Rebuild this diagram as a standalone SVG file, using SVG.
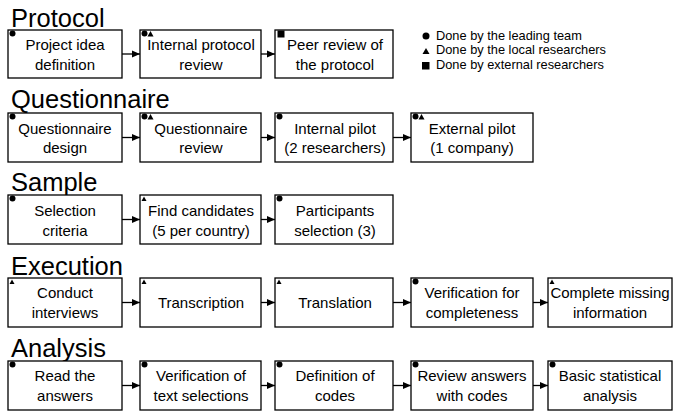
<svg xmlns="http://www.w3.org/2000/svg" width="675" height="413" viewBox="0 0 675 413">
<defs>
<marker id="ah" markerWidth="8" markerHeight="8" refX="8" refY="4" orient="auto" markerUnits="userSpaceOnUse"><path d="M0,0.5 L8,4 L0,7.5 z" fill="#000"/></marker>
<style>
.title{font-family:"Liberation Sans",Arial,sans-serif;font-size:25.5px;fill:#000}
.lbl{font-family:"Liberation Sans",Arial,sans-serif;font-size:15px;fill:#000;text-anchor:middle}
.leg{font-family:"Liberation Sans",Arial,sans-serif;font-size:12.8px;fill:#000}
.box{fill:#fff;stroke:#000;stroke-width:1.3}
.conn{stroke:#000;stroke-width:1.3;fill:none;marker-end:url(#ah)}
.mk{fill:#000}
</style>
</defs>
<rect width="675" height="413" fill="#fff"/>

<g id="titles">
<text class="title" x="11" y="27">Protocol</text>
<text class="title" x="11" y="108">Questionnaire</text>
<text class="title" x="11" y="191">Sample</text>
<text class="title" x="11" y="275">Execution</text>
<text class="title" x="11" y="357">Analysis</text>
</g>

<g id="legend">
<circle class="mk" cx="426" cy="36" r="3.5"/>
<text class="leg" x="436" y="39.5">Done by the leading team</text>
<path class="mk" d="M422.5,54 L426,48 L429.5,54 z"/>
<text class="leg" x="436" y="54">Done by the local researchers</text>
<rect class="mk" x="422" y="62" width="7.5" height="7.5"/>
<text class="leg" x="436" y="68.5">Done by external researchers</text>
</g>

<g id="connectors">
<line class="conn" x1="122" y1="54" x2="140" y2="54"/>
<line class="conn" x1="261" y1="54" x2="275" y2="54"/>
<line class="conn" x1="122" y1="137.5" x2="140" y2="137.5"/>
<line class="conn" x1="261" y1="137.5" x2="275" y2="137.5"/>
<line class="conn" x1="393" y1="137.5" x2="411" y2="137.5"/>
<line class="conn" x1="122" y1="219.5" x2="140" y2="219.5"/>
<line class="conn" x1="261" y1="219.5" x2="275" y2="219.5"/>
<line class="conn" x1="122" y1="302.5" x2="140" y2="302.5"/>
<line class="conn" x1="261" y1="302.5" x2="275" y2="302.5"/>
<line class="conn" x1="393" y1="302.5" x2="411" y2="302.5"/>
<line class="conn" x1="533" y1="302.5" x2="548" y2="302.5"/>
<line class="conn" x1="122" y1="385.5" x2="140" y2="385.5"/>
<line class="conn" x1="261" y1="385.5" x2="275" y2="385.5"/>
<line class="conn" x1="393" y1="385.5" x2="411" y2="385.5"/>
<line class="conn" x1="533" y1="385.5" x2="548" y2="385.5"/>
</g>

<!-- Protocol -->
<g id="p1"><rect class="box" x="8" y="30" width="114" height="48"/><circle class="mk" cx="12.5" cy="33.5" r="3"/>
<text class="lbl" x="65" y="50">Project idea</text><text class="lbl" x="65" y="70">definition</text></g>
<g id="p2"><rect class="box" x="140" y="30" width="121" height="48"/><circle class="mk" cx="144.5" cy="33.5" r="3"/><path class="mk" d="M147.5,36.5 L150.5,31 L153.5,36.5 z"/>
<text class="lbl" x="201" y="50">Internal protocol</text><text class="lbl" x="201" y="70">review</text></g>
<g id="p3"><rect class="box" x="275" y="30" width="118" height="48"/><rect class="mk" x="277.5" y="30.5" width="7" height="7"/>
<text class="lbl" x="335" y="50">Peer review of</text><text class="lbl" x="335" y="70">the protocol</text></g>

<!-- Questionnaire -->
<g id="q1"><rect class="box" x="8" y="113" width="114" height="49"/><circle class="mk" cx="12.5" cy="116.5" r="3"/>
<text class="lbl" x="65" y="134">Questionnaire</text><text class="lbl" x="65" y="153">design</text></g>
<g id="q2"><rect class="box" x="140" y="113" width="121" height="49"/><circle class="mk" cx="144.5" cy="116.5" r="3"/><path class="mk" d="M147.5,119.5 L150.5,114 L153.5,119.5 z"/>
<text class="lbl" x="201" y="134">Questionnaire</text><text class="lbl" x="201" y="153">review</text></g>
<g id="q3"><rect class="box" x="275" y="113" width="118" height="49"/><circle class="mk" cx="279.5" cy="116.5" r="3"/>
<text class="lbl" x="335" y="134">Internal pilot</text><text class="lbl" x="335" y="153">(2 researchers)</text></g>
<g id="q4"><rect class="box" x="411" y="113" width="122" height="49"/><circle class="mk" cx="415.5" cy="116.5" r="3"/><path class="mk" d="M418.5,119.5 L421.5,114 L424.5,119.5 z"/>
<text class="lbl" x="472" y="134">External pilot</text><text class="lbl" x="472" y="153">(1 company)</text></g>

<!-- Sample -->
<g id="s1"><rect class="box" x="8" y="195" width="114" height="49"/><circle class="mk" cx="12.5" cy="198.5" r="3"/>
<text class="lbl" x="65" y="216">Selection</text><text class="lbl" x="65" y="236">criteria</text></g>
<g id="s2"><rect class="box" x="140" y="195" width="121" height="49"/><path class="mk" d="M141.5,201 L144,196.5 L146.5,201 z"/>
<text class="lbl" x="201" y="216">Find candidates</text><text class="lbl" x="201" y="236">(5 per country)</text></g>
<g id="s3"><rect class="box" x="275" y="195" width="118" height="49"/><circle class="mk" cx="279.5" cy="198.5" r="3"/>
<text class="lbl" x="335" y="216">Participants</text><text class="lbl" x="335" y="236">selection (3)</text></g>

<!-- Execution -->
<g id="e1"><rect class="box" x="8" y="278" width="114" height="49"/><path class="mk" d="M9.5,284 L12,279.5 L14.5,284 z"/>
<text class="lbl" x="65" y="298">Conduct</text><text class="lbl" x="65" y="318">interviews</text></g>
<g id="e2"><rect class="box" x="140" y="278" width="121" height="49"/><path class="mk" d="M141.5,284 L144,279.5 L146.5,284 z"/>
<text class="lbl" x="201" y="308">Transcription</text></g>
<g id="e3"><rect class="box" x="275" y="278" width="118" height="49"/><path class="mk" d="M276.5,284 L279,279.5 L281.5,284 z"/>
<text class="lbl" x="335" y="308">Translation</text></g>
<g id="e4"><rect class="box" x="411" y="278" width="122" height="49"/><circle class="mk" cx="415.5" cy="281.5" r="3"/>
<text class="lbl" x="472" y="298">Verification for</text><text class="lbl" x="472" y="318">completeness</text></g>
<g id="e5"><rect class="box" x="548" y="278" width="124" height="49"/><path class="mk" d="M549.5,284 L552,279.5 L554.5,284 z"/>
<text class="lbl" x="610" y="298">Complete missing</text><text class="lbl" x="610" y="318">information</text></g>

<!-- Analysis -->
<g id="a1"><rect class="box" x="8" y="361" width="114" height="49"/><circle class="mk" cx="12.5" cy="364.5" r="3"/>
<text class="lbl" x="65" y="381">Read the</text><text class="lbl" x="65" y="401">answers</text></g>
<g id="a2"><rect class="box" x="140" y="361" width="121" height="49"/><circle class="mk" cx="144.5" cy="364.5" r="3"/>
<text class="lbl" x="201" y="381">Verification of</text><text class="lbl" x="201" y="401">text selections</text></g>
<g id="a3"><rect class="box" x="275" y="361" width="118" height="49"/><circle class="mk" cx="279.5" cy="364.5" r="3"/>
<text class="lbl" x="335" y="381">Definition of</text><text class="lbl" x="335" y="401">codes</text></g>
<g id="a4"><rect class="box" x="411" y="361" width="122" height="49"/><circle class="mk" cx="415.5" cy="364.5" r="3"/>
<text class="lbl" x="472" y="381">Review answers</text><text class="lbl" x="472" y="401">with codes</text></g>
<g id="a5"><rect class="box" x="548" y="361" width="124" height="49"/><circle class="mk" cx="552.5" cy="364.5" r="3"/>
<text class="lbl" x="610" y="381">Basic statistical</text><text class="lbl" x="610" y="401">analysis</text></g>
</svg>
